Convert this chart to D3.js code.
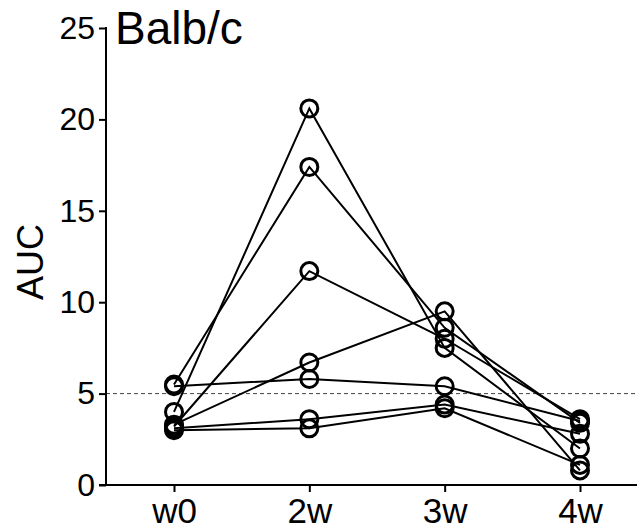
<!DOCTYPE html>
<html>
<head>
<meta charset="utf-8">
<script src="https://cdn.jsdelivr.net/npm/d3@7"></script>
<style>
  body { margin: 0; background: #fff; }
  svg text { font-family: "Liberation Sans", Arial, sans-serif; fill: #000; }
</style>
</head>
<body>
<div id="chart"></div>
<script>
// timepoints on the x axis
var timepoints = ["w0", "2w", "3w", "4w"];
var yTicks = [0, 5, 10, 15, 20, 25];
var threshold = 5;

// one array per mouse, AUC at each timepoint
var mouse1 = [5.5, 17.4, 8.6, 3.4];
var mouse2 = [4.0, 20.6, 7.5, 2.0];
var mouse3 = [3.2, 11.7, 8.0, 3.6];
var mouse4 = [3.3, 6.7, 9.5, 0.8];
var mouse5 = [5.4, 5.8, 5.4, 3.5];
var mouse6 = [3.1, 3.6, 4.4, 2.8];
var mouse7 = [3.0, 3.1, 4.2, 1.1];
var mice = [mouse1, mouse2, mouse3, mouse4, mouse5, mouse6, mouse7];

var width = 637, height = 531;
var axisX = 106, axisBottom = 485, axisTop = 28, axisRight = 637;

var svg = d3.select("#chart").append("svg")
    .attr("width", width)
    .attr("height", height);

var x = d3.scalePoint().domain(timepoints).range([174, 580]);
var y = d3.scaleLinear().domain([0, 25]).range([axisBottom, axisTop]);

// dashed threshold line
svg.append("line")
    .attr("x1", axisX).attr("x2", axisRight)
    .attr("y1", y(threshold)).attr("y2", y(threshold))
    .attr("stroke", "#444")
    .attr("stroke-width", 1)
    .attr("stroke-dasharray", "4,3");

// y axis
var gy = svg.append("g")
    .attr("transform", "translate(" + axisX + ",0)")
    .call(d3.axisLeft(y).tickValues(yTicks).tickSize(7).tickSizeOuter(0).tickPadding(4));
gy.select(".domain").remove();
gy.selectAll(".tick line").attr("stroke", "#000").attr("stroke-width", 2);
gy.selectAll(".tick text").style("font-size", "32px");
gy.append("line")
    .attr("x1", 0).attr("x2", 0)
    .attr("y1", axisTop - 1).attr("y2", axisBottom)
    .attr("stroke", "#000").attr("stroke-width", 2);

// x axis
var gx = svg.append("g")
    .attr("transform", "translate(0," + axisBottom + ")")
    .call(d3.axisBottom(x).tickSize(7).tickSizeOuter(0).tickPadding(6));
gx.select(".domain").remove();
gx.selectAll(".tick line").attr("stroke", "#000").attr("stroke-width", 2);
gx.selectAll(".tick text").style("font-size", "35px");
gx.append("line")
    .attr("x1", axisX - 7).attr("x2", axisRight)
    .attr("y1", 0).attr("y2", 0)
    .attr("stroke", "#000").attr("stroke-width", 2);

// axis title
svg.append("text")
    .attr("transform", "translate(43," + y(12.2) + ") rotate(-90)")
    .attr("text-anchor", "middle")
    .style("font-size", "36px")
    .text("AUC");

// chart title
svg.append("text")
    .attr("x", 115)
    .attr("y", 44)
    .style("font-size", "46px")
    .text("Balb/c");

var line = d3.line()
    .x(function (d, i) { return x(timepoints[i]); })
    .y(function (d) { return y(d); });

// lines per mouse
svg.append("g").selectAll("path")
    .data(mice)
    .enter().append("path")
    .attr("d", line)
    .attr("fill", "none")
    .attr("stroke", "#000")
    .attr("stroke-width", 2);

// open circles
mice.forEach(function (m) {
    svg.append("g").selectAll("circle")
        .data(m)
        .enter().append("circle")
        .attr("cx", function (d, i) { return x(timepoints[i]); })
        .attr("cy", function (d) { return y(d); })
        .attr("r", 8.5)
        .attr("fill", "none")
        .attr("stroke", "#000")
        .attr("stroke-width", 3);
});
</script>
</body>
</html>
